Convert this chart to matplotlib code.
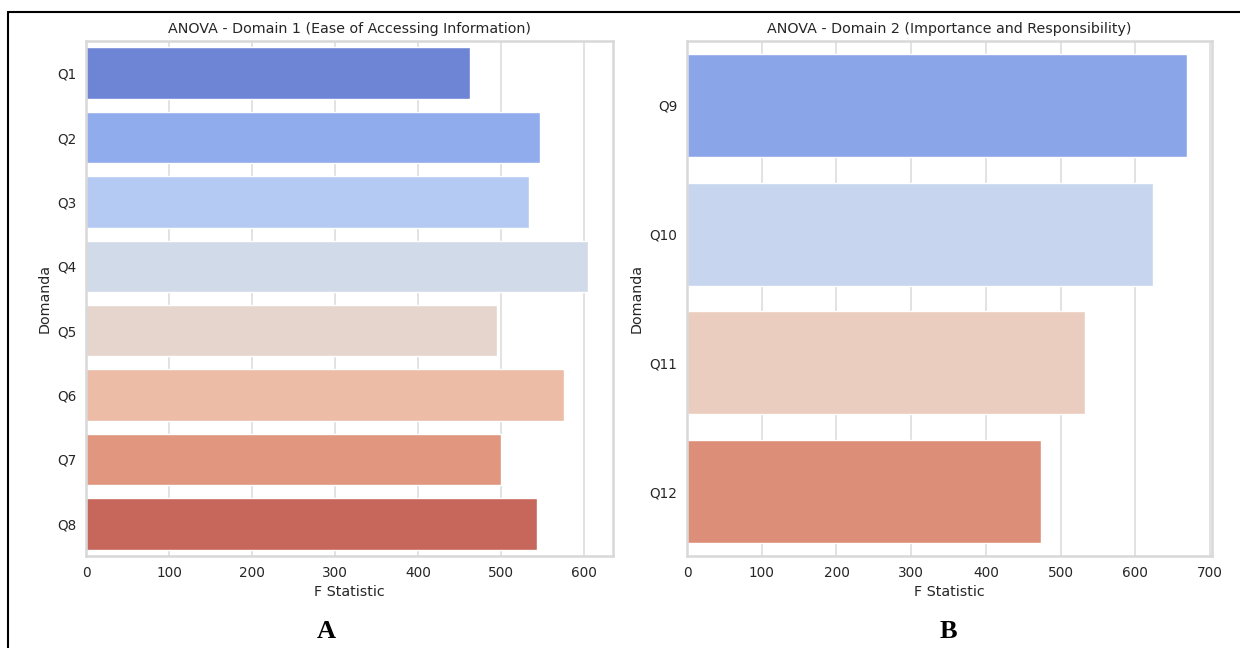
import numpy as np
import pandas as pd
import matplotlib
matplotlib.use("Agg")
import matplotlib.pyplot as plt
import seaborn as sns
from matplotlib.lines import Line2D

domain1_q = ["Q1", "Q2", "Q3", "Q4", "Q5", "Q6", "Q7", "Q8"]
domain1_f = [463, 547, 534, 605, 495, 576, 500, 544]

domain2_q = ["Q9", "Q10", "Q11", "Q12"]
domain2_f = [669, 624, 533, 474]

sns.set_style("whitegrid")
plt.rcParams['font.family'] = ['DejaVu Sans']

fig = plt.figure(figsize=(12.4, 6.48), dpi=100)
ax1 = fig.add_axes([0.0694, 0.142, 0.425, 0.7947])
ax2 = fig.add_axes([0.554, 0.142, 0.4234, 0.7947])

df1 = pd.DataFrame({"Domanda": domain1_q, "F": domain1_f})
df2 = pd.DataFrame({"Domanda": domain2_q, "F": domain2_f})

sns.barplot(data=df1, x="F", y="Domanda", hue="Domanda", palette="coolwarm",
            legend=False, ax=ax1)
sns.barplot(data=df2, x="F", y="Domanda", hue="Domanda", palette="coolwarm",
            legend=False, ax=ax2)

ax1.set_title("ANOVA - Domain 1 (Ease of Accessing Information)", fontsize=10.3)
ax2.set_title("ANOVA - Domain 2 (Importance and Responsibility)", fontsize=10.3)
for ax in (ax1, ax2):
    ax.set_xlabel("F Statistic", fontsize=10.3)
    ax.set_ylabel("Domanda", fontsize=10.3)
    ax.tick_params(labelsize=9.8)
    ax.xaxis.grid(True, color="#e2e2e2", lw=1.4)
    for sp in ax.spines.values():
        sp.set_color("#d8d8d8")
        sp.set_linewidth(1.8)

ax2.set_xticks([0, 100, 200, 300, 400, 500, 600, 700])

# figure frame (top and left only)
fig.add_artist(Line2D([0.00645, 1.0], [0.9815, 0.9815], color="black", lw=1.5))
fig.add_artist(Line2D([0.00645, 0.00645], [0.0, 0.9815], color="black", lw=1.5))

fig.text(326 / 1240, 1 - 632 / 648, "A", ha="center", va="center", color="black",
         family="Liberation Serif", weight="bold", fontsize=19)
fig.text(948 / 1240, 1 - 632 / 648, "B", ha="center", va="center", color="black",
         family="Liberation Serif", weight="bold", fontsize=19)

fig.savefig("out.png", dpi=100)
